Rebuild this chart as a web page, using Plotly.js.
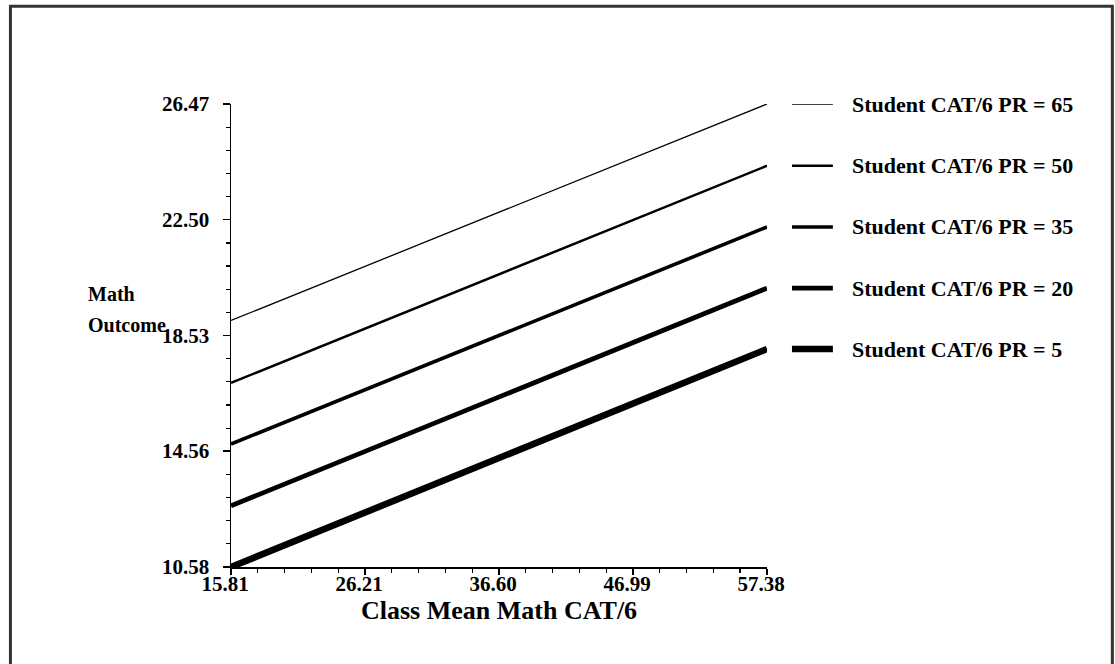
<!DOCTYPE html>
<html>
<head>
<meta charset="utf-8">
<script src="https://cdn.plot.ly/plotly-3.0.1.min.js"></script>
<style>
  html, body { margin: 0; padding: 0; background: #ffffff; }
  #chart { width: 1115px; height: 664px; }
</style>
</head>
<body>
<div id="chart"></div>
<script>
// ---- data ----
const classMean = [15.81, 57.38];
const seriesNames = [
  "Student CAT/6 PR = 65",
  "Student CAT/6 PR = 50",
  "Student CAT/6 PR = 35",
  "Student CAT/6 PR = 20",
  "Student CAT/6 PR = 5"
];
const pr65 = [19.04, 26.47];
const pr50 = [16.90, 24.35];
const pr35 = [14.80, 22.25];
const pr20 = [12.68, 20.15];
const pr5  = [10.58, 18.06];
const xTickVals = [15.81, 26.21, 36.60, 46.99, 57.38];
const xTickText = ["15.81", "26.21", "36.60", "46.99", "57.38"];
const yTickVals = [10.58, 14.56, 18.53, 22.50, 26.47];
const yTickText = ["10.58", "14.56", "18.53", "22.50", "26.47"];
const xTitle = "Class Mean Math CAT/6";
const yTitleLines = ["Math", "Outcome"];

const seriesValues = [pr65, pr50, pr35, pr20, pr5];
const lineWidths = [1.3, 2.5, 3.6, 4.8, 6.6];

const FONT = "'Liberation Serif', 'Times New Roman', serif";

const traces = seriesValues.map((vals, i) => ({
  type: "scatter",
  mode: "lines",
  x: classMean,
  y: vals,
  name: seriesNames[i],
  line: { color: "#000000", width: lineWidths[i] },
  hoverinfo: "skip",
  showlegend: false
}));

// manual legend: sample line + label at each series' end value
const shapes = [];
const annotations = [];
seriesValues.forEach((vals, i) => {
  const yEnd = vals[vals.length - 1];
  shapes.push({
    type: "line", xref: "paper", yref: "y",
    x0: 1.0466, x1: 1.1229, y0: yEnd, y1: yEnd,
    line: { color: "#000000", width: lineWidths[i] }
  });
  annotations.push({
    xref: "paper", yref: "y", x: 1.155, y: yEnd,
    xanchor: "left", yanchor: "middle",
    text: seriesNames[i], showarrow: false,
    font: { family: FONT, size: 22, color: "#000000", weight: "bold" }
  });
});

// outer frame
shapes.push({
  type: "rect", xref: "paper", yref: "paper",
  x0: -0.4115, x1: 1.6443, y0: -0.23, y1: 1.2112,
  line: { color: "#333333", width: 3 }, fillcolor: "rgba(0,0,0,0)"
});

// y-axis title (horizontal, two lines)
annotations.push({
  xref: "paper", yref: "paper", x: -0.27, y: 0.5905,
  xanchor: "left", yanchor: "middle", align: "left",
  text: yTitleLines[0], showarrow: false,
  font: { family: FONT, size: 20, color: "#000000", weight: "bold" }
});
annotations.push({
  xref: "paper", yref: "paper", x: -0.27, y: 0.5216,
  xanchor: "left", yanchor: "middle", align: "left",
  text: yTitleLines[1], showarrow: false,
  font: { family: FONT, size: 20, color: "#000000", weight: "bold" }
});

// x-axis title
annotations.push({
  xref: "paper", yref: "paper", x: 0.5, y: -0.095,
  xanchor: "center", yanchor: "middle",
  text: xTitle, showarrow: false,
  font: { family: FONT, size: 26, color: "#000000", weight: "bold" }
});

const layout = {
  width: 1115, height: 664,
  margin: { l: 231, r: 348, t: 104, b: 97 },
  paper_bgcolor: "#ffffff", plot_bgcolor: "#ffffff",
  showlegend: false,
  font: { family: FONT, color: "#000000" },
  xaxis: {
    range: [15.81, 57.38],
    tickmode: "array", tickvals: xTickVals, ticktext: xTickText,
    showgrid: false, zeroline: false,
    showline: true, linecolor: "#000000", linewidth: 1.5,
    ticks: "outside", ticklen: 6, tickwidth: 1.5, tickcolor: "#000000",
    minor: { tick0: 15.81, dtick: 2.078, ticks: "outside", ticklen: 4, tickwidth: 1.2, tickcolor: "#000000", showgrid: false },
    tickfont: { family: FONT, size: 21, color: "#000000", weight: "bold" },
    ticklabelstandoff: -9,
    ticklabelshift: -6,
    fixedrange: true
  },
  yaxis: {
    range: [10.58, 26.47],
    tickmode: "array", tickvals: yTickVals, ticktext: yTickText,
    showgrid: false, zeroline: false,
    showline: true, linecolor: "#000000", linewidth: 1.5,
    ticks: "outside", ticklen: 7, tickwidth: 1.5, tickcolor: "#000000",
    minor: { tick0: 10.58, dtick: 0.7945, ticks: "outside", ticklen: 4, tickwidth: 1.2, tickcolor: "#000000", showgrid: false },
    tickfont: { family: FONT, size: 21, color: "#000000", weight: "bold" },
    ticklabelstandoff: 9,
    fixedrange: true
  },
  shapes: shapes,
  annotations: annotations
};

Plotly.newPlot("chart", traces, layout, { displayModeBar: false, staticPlot: true });
</script>
</body>
</html>
